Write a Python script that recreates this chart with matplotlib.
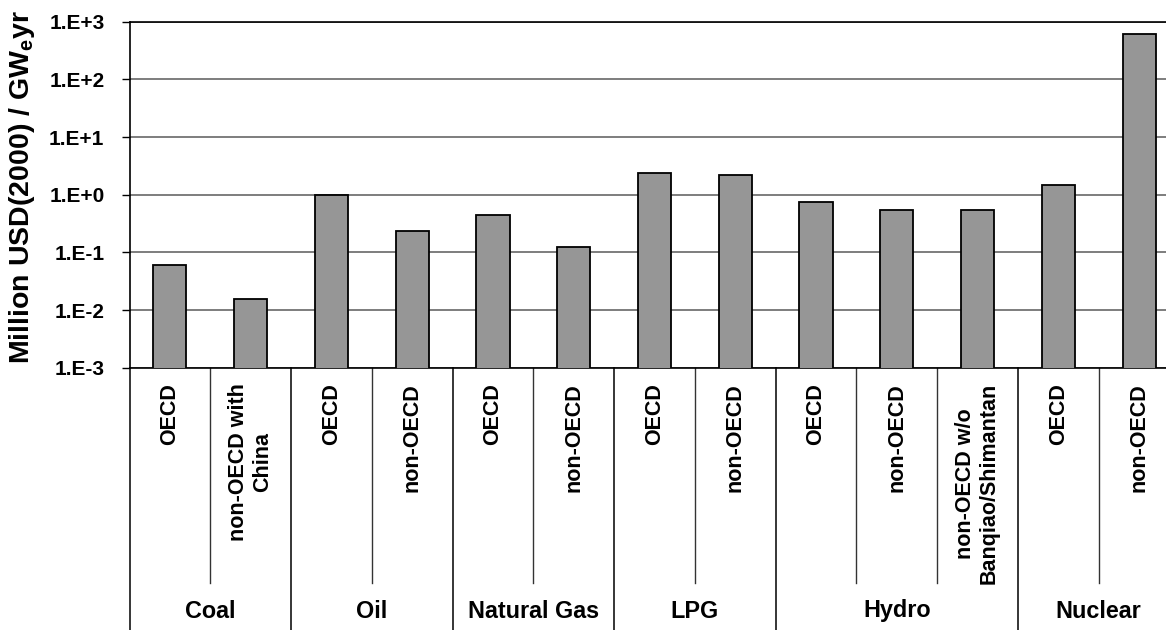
import numpy as np
import matplotlib

matplotlib.use('Agg')
import matplotlib.pyplot as plt
from matplotlib import transforms
from matplotlib.ticker import FixedLocator, FuncFormatter, NullLocator

plt.rcParams['font.family'] = ['Liberation Sans', 'DejaVu Sans']
plt.rcParams['font.weight'] = 'bold'
plt.rcParams['mathtext.fontset'] = 'custom'
plt.rcParams['mathtext.rm'] = 'Liberation Sans:bold'
plt.rcParams['mathtext.bf'] = 'Liberation Sans:bold'

# data
groups = ['Coal', 'Oil', 'Natural Gas', 'LPG', 'Hydro', 'Nuclear']
group_sizes = [2, 2, 2, 2, 3, 2]
bar_labels = ['OECD', 'non-OECD with\nChina',
              'OECD', 'non-OECD',
              'OECD', 'non-OECD',
              'OECD', 'non-OECD',
              'OECD', 'non-OECD', 'non-OECD w/o\nBanqiao/Shimantan',
              'OECD', 'non-OECD']
values = [0.061, 0.0153,
          0.98, 0.235,
          0.44, 0.122,
          2.38, 2.22,
          0.76, 0.535, 0.535,
          1.45, 600.0]

W, H = 1166, 630
fig = plt.figure(figsize=(W / 100, H / 100), dpi=100)

# plot area runs past the right edge of the picture, as in the reference
left_px, right_px, top_px, bot_px = 129.5, 1179.5, 21.7, 367.7
ax = fig.add_axes([left_px / W, 1 - bot_px / H,
                   (right_px - left_px) / W, (bot_px - top_px) / H])

x = np.arange(len(values))
ax.bar(x, values, width=0.41, color='#969696', edgecolor='black',
       linewidth=1.3, zorder=3)

ax.set_yscale('log')
ax.set_ylim(1e-3, 1e3)
ax.set_xlim(-0.5, len(values) - 0.5)
ax.yaxis.set_major_locator(FixedLocator(10.0 ** np.arange(-3, 4)))
ax.yaxis.set_minor_locator(NullLocator())
ax.yaxis.set_major_formatter(
    FuncFormatter(lambda v, p: f'1.E{int(round(np.log10(v))):+d}'))
ax.tick_params(axis='y', direction='out', length=6, width=1,
               labelsize=15, pad=12)
ax.set_xticks([])
ax.grid(axis='y', which='major', color='#5a5a5a', linewidth=1.1, zorder=0)
for s in ['left', 'bottom', 'top']:
    ax.spines[s].set_linewidth(1.2)
ax.spines['right'].set_visible(False)

fig.text(22 / W, 1 - 187 / H, 'Million USD(2000) / GW$_{\\mathbf{e}}$yr',
         rotation=90, ha='center', va='center', fontsize=20.5,
         fontweight='bold')

# multi-level category axis
tr = transforms.blended_transform_factory(ax.transData, fig.transFigure)
y_axis = 1 - bot_px / H
y_sub = 1 - 583 / H
bounds = np.concatenate([[0], np.cumsum(group_sizes)]) - 0.5
for i, lab in enumerate(bar_labels):
    ax.text(i, 1 - 383 / H, lab, transform=tr, rotation=90, ha='center',
            va='top', fontsize=15.5, fontweight='bold', linespacing=1.15)
for b in bounds:
    ax.plot([b, b], [y_axis, 0], transform=tr, color='black', lw=1.1,
            clip_on=False)
for gi, g in enumerate(groups):
    lo, hi = bounds[gi], bounds[gi + 1]
    for k in np.arange(lo + 1, hi):
        ax.plot([k, k], [y_axis, y_sub], transform=tr, color='#333333',
                lw=1.0, clip_on=False)
    ax.text((lo + hi) / 2, 1 - 611 / H, g, transform=tr, ha='center',
            va='center', fontsize=16.8, fontweight='bold')

fig.savefig('out.png', dpi=100)
